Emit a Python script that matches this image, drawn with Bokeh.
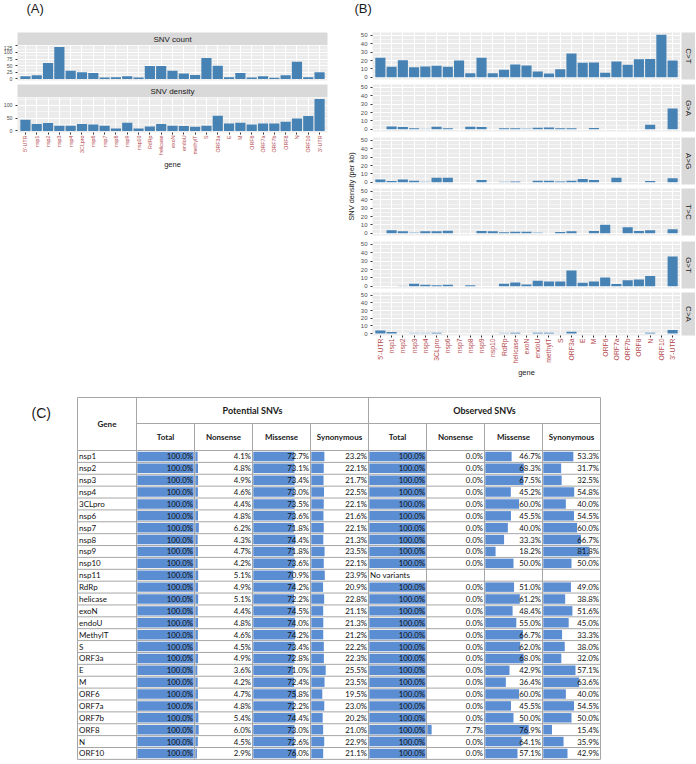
import math
from bokeh.plotting import figure
from bokeh.layouts import column, row
from bokeh.models import Range1d, FactorRange, FixedTicker, ColumnDataSource
from bokeh.core.properties import value
from bokeh.embed import file_html
from bokeh.resources import INLINE

# ---------------- data ----------------
genes = ["5'-UTR", "nsp1", "nsp2", "nsp3", "nsp4", "3CLpro", "nsp6", "nsp7", "nsp8",
         "nsp9", "nsp10", "RdRp", "helicase", "exoN", "endoU", "methylT", "S", "ORF3a",
         "E", "M", "ORF6", "ORF7a", "ORF7b", "ORF8", "N", "ORF10", "3'-UTR"]

a_facets = ["SNV count", "SNV density"]
snv_count = [10, 14, 60, 120, 31, 25, 22, 5, 6, 10, 5, 49, 49, 31, 20, 15, 79, 50, 6, 22,
             5, 10, 4, 14, 65, 6, 25]
snv_density = [44, 27, 31, 20, 20, 27, 25, 20, 9, 32, 9, 17, 27, 20, 19, 16, 20, 60, 29,
               32, 25, 29, 29, 36, 49, 59, 125]

b_facets = ["C>T", "G>A", "A>G", "T>C", "G>T", "C>A"]
ct = [23.5, 12.7, 20.4, 12.0, 13.0, 14.0, 12.7, 20.0, 5.0, 23.5, 5.0, 9.2, 15.4, 14.2, 7.0,
      4.6, 9.6, 28.5, 17.3, 17.7, 5.4, 19.0, 15.0, 21.5, 22.0, 51.0, 20.0]
ga = [0, 3.5, 2.7, 1.2, 0.8, 3.1, 1.2, 0, 3.1, 2.7, 0, 1.2, 1.2, 1.2, 2.0, 2.3, 1.2, 1.2,
      0, 1.5, 0, 0, 0, 0, 5.4, 0, 25.0]
ag = [3.5, 1.6, 3.5, 2.0, 1.0, 5.5, 5.5, 0, 0, 2.7, 0, 1.0, 1.0, 0, 2.0, 2.0, 1.0, 2.0,
      4.0, 2.7, 0, 5.5, 0, 0, 1.6, 0, 5.0]
tc = [0, 3.6, 2.4, 1.2, 2.4, 2.4, 3.2, 0, 0, 2.8, 2.4, 1.2, 2.0, 2.0, 1.2, 0, 1.6, 2.4,
      0, 2.8, 10.4, 0, 7.2, 2.8, 3.6, 0, 4.8]
gt = [0, 0, 0.8, 3.1, 2.0, 1.2, 2.0, 0, 1.2, 0, 0, 3.1, 4.7, 2.3, 6.6, 5.9, 5.9, 19.0,
      4.3, 5.9, 10.5, 2.7, 7.4, 8.2, 12.5, 0, 35.5]
ca = [3.9, 2.0, 0, 1.2, 1.2, 1.2, 0, 0, 0, 0, 0, 1.2, 1.2, 0, 1.2, 1.2, 0.4, 2.3,
      0, 0, 0, 0, 0, 0, 1.2, 0, 4.7]
ct_light = []
ga_light = ["nsp4", "exoN"]
ag_light = ["nsp4", "RdRp"]
tc_light = ["nsp3", "endoU"]
gt_light = ["nsp2"]
ca_light = ["nsp3", "nsp4", "RdRp", "S"]

tbl_genes = ["nsp1", "nsp2", "nsp3", "nsp4", "3CLpro", "nsp6", "nsp7", "nsp8", "nsp9",
             "nsp10", "nsp11", "RdRp", "helicase", "exoN", "endoU", "MethylT", "S", "ORF3a",
             "E", "M", "ORF6", "ORF7a", "ORF7b", "ORF8", "N", "ORF10"]
group_headers = ["Potential SNVs", "Observed SNVs"]
sub_headers = ["Total", "Nonsense", "Missense", "Synonymous"]
pot_total = [100.0, 100.0, 100.0, 100.0, 100.0, 100.0, 100.0, 100.0, 100.0, 100.0, 100.0,
             100.0, 100.0, 100.0, 100.0, 100.0, 100.0, 100.0, 100.0, 100.0, 100.0, 100.0,
             100.0, 100.0, 100.0, 100.0]
pot_nonsense = [4.1, 4.8, 4.9, 4.6, 4.4, 4.8, 6.2, 4.3, 4.7, 4.2, 5.1, 4.9, 5.1, 4.4, 4.8,
                4.6, 4.5, 4.9, 3.6, 4.2, 4.7, 4.8, 5.4, 6.0, 4.5, 2.9]
pot_missense = [72.7, 73.1, 73.4, 73.0, 73.5, 73.6, 71.8, 74.4, 71.8, 73.6, 70.9, 74.2,
                72.2, 74.5, 74.0, 74.2, 73.4, 72.8, 71.0, 72.4, 75.8, 72.2, 74.4, 73.0,
                72.6, 76.0]
pot_synonymous = [23.2, 22.1, 21.7, 22.5, 22.1, 21.6, 22.1, 21.3, 23.5, 22.1, 23.9, 20.9,
                  22.8, 21.1, 21.3, 21.2, 22.2, 22.3, 25.5, 23.5, 19.5, 23.0, 20.2, 21.0,
                  22.9, 21.1]
obs_total = [100.0, 100.0, 100.0, 100.0, 100.0, 100.0, 100.0, 100.0, 100.0, 100.0, None,
             100.0, 100.0, 100.0, 100.0, 100.0, 100.0, 100.0, 100.0, 100.0, 100.0, 100.0,
             100.0, 100.0, 100.0, 100.0]
obs_nonsense = [0.0, 0.0, 0.0, 0.0, 0.0, 0.0, 0.0, 0.0, 0.0, 0.0, None, 0.0, 0.0, 0.0, 0.0,
                0.0, 0.0, 0.0, 0.0, 0.0, 0.0, 0.0, 0.0, 7.7, 0.0, 0.0]
obs_missense = [46.7, 68.3, 67.5, 45.2, 60.0, 45.5, 40.0, 33.3, 18.2, 50.0, None, 51.0,
                61.2, 48.4, 55.0, 66.7, 62.0, 68.0, 42.9, 36.4, 60.0, 45.5, 50.0, 76.9,
                64.1, 57.1]
obs_synonymous = [53.3, 31.7, 32.5, 54.8, 40.0, 54.5, 60.0, 66.7, 81.8, 50.0, None, 49.0,
                  38.8, 51.6, 45.0, 33.3, 38.0, 32.0, 57.1, 63.6, 40.0, 54.5, 50.0, 15.4,
                  35.9, 42.9]
no_variant_text = "No variants"

# ---------------- style ----------------
FONT = "Liberation Sans"
TFONT = "Lato"
PANEL_BG = "#EBEBEB"
STRIP_BG = "#D9D9D9"
BAR = "#4682B4"
BAR_LIGHT = "#A9C7E0"
GENE_RED = "#B5494E"
TBL_BAR = "#5B8DD3"
TBL_LINE = "#A6A6A6"


def blank_fig(width, height, xr, yr, left=0, right=0, top=0, bottom=0, bg="white"):
    p = figure(width=width, height=height, x_range=xr, y_range=yr,
               output_backend="svg", toolbar_location=None, title=None,
               x_axis_location=None, y_axis_location=None,
               min_border_left=left, min_border_right=right,
               min_border_top=top, min_border_bottom=bottom)
    p.background_fill_color = bg
    p.border_fill_color = "white"
    p.outline_line_color = None
    p.grid.visible = False
    return p


def facet_fig(vals, light, yr, ticks, minor, width, height, left, right, top, bottom,
              show_x, xfont, yfont):
    xr = FactorRange(factors=genes, range_padding=0.2, range_padding_units="absolute")
    p = figure(width=width, height=height, x_range=xr, y_range=Range1d(*yr),
               output_backend="svg", toolbar_location=None, title=None,
               min_border_left=left, min_border_right=right,
               min_border_top=top, min_border_bottom=bottom)
    p.background_fill_color = PANEL_BG
    p.border_fill_color = "white"
    p.outline_line_color = None
    keep = [i for i, v in enumerate(vals) if v > 0]
    src = ColumnDataSource(dict(
        gene=[genes[i] for i in keep],
        top=[vals[i] for i in keep],
        color=[BAR_LIGHT if genes[i] in light else BAR for i in keep]))
    p.vbar(x="gene", top="top", bottom=0, width=0.9, fill_color="color",
           line_color=None, source=src)
    yax = p.yaxis[0]
    yax.ticker = FixedTicker(ticks=ticks, minor_ticks=minor)
    yax.axis_line_color = None
    yax.major_tick_line_color = "#333333"
    yax.major_tick_out = 2
    yax.major_tick_in = 0
    yax.minor_tick_line_color = None
    yax.major_label_text_font = FONT
    yax.major_label_text_font_size = yfont
    yax.major_label_text_color = "#4D4D4D"
    yax.major_label_standoff = 1
    p.ygrid.grid_line_color = "white"
    p.ygrid.grid_line_width = 1
    p.ygrid.minor_grid_line_color = "white"
    p.ygrid.minor_grid_line_width = 0.5
    p.xgrid.grid_line_color = "white"
    p.xgrid.grid_line_width = 1
    xax = p.xaxis[0]
    if show_x:
        xax.axis_line_color = None
        xax.major_tick_line_color = "#333333"
        xax.major_tick_out = 2
        xax.major_tick_in = 0
        xax.major_label_orientation = math.pi / 2
        xax.major_label_text_font = FONT
        xax.major_label_text_font_size = xfont
        xax.major_label_text_color = GENE_RED
        xax.major_label_standoff = 1
        xax.axis_label = "gene"
        xax.axis_label_text_font = FONT
        xax.axis_label_text_font_size = "7.5px"
        xax.axis_label_text_font_style = "normal"
        xax.axis_label_text_color = "#1A1A1A"
        xax.axis_label_standoff = 2
    else:
        xax.visible = False
    return p


TOTAL_W = 695

# ---------------- header ----------------
header = blank_fig(TOTAL_W, 32, Range1d(0, TOTAL_W), Range1d(32, 0))
header.text(x=[26, 354], y=[8, 8], text=["(A)", "(B)"], text_align="left",
            text_baseline="middle", text_font=value(FONT), text_font_size="13px",
            text_color="#1A1A1A")

# ---------------- panel A ----------------
A_W, A_L, A_R = 340, 13, 13


def strip_top(label):
    s = blank_fig(A_W, 13, Range1d(0, 1), Range1d(0, 1), left=A_L, right=A_R, bg=STRIP_BG)
    s.text(x=[0.5], y=[0.5], text=[label], text_align="center", text_baseline="middle",
           text_font=value(FONT), text_font_size="8px", text_color="#1A1A1A")
    return s


a1 = facet_fig(snv_count, [], (-6, 126), [0, 25, 50, 75, 100, 125],
               [12.5, 37.5, 62.5, 87.5, 112.5], A_W, 39, A_L, A_R, 0, 4, False, "5.3px", "5.2px")
a2 = facet_fig(snv_density, [], (-6.25, 131.25), [0, 50, 100], [25, 75, 125],
               A_W, 75, A_L, A_R, 0, 40, True, "5.3px", "5.2px")
a_col = column(strip_top(a_facets[0]), a1, strip_top(a_facets[1]), a2)

# ---------------- panel B ----------------
B_W, B_L = 323, 11
b_vals = [ct, ga, ag, tc, gt, ca]
b_light = [ct_light, ga_light, ag_light, tc_light, gt_light, ca_light]
b_specs = [(52, 0, 5), (49, 0, 2), (53, 2, 4), (50, 0, 3), (52, 1, 4), (88, 0, 41)]
b_children = []
for k in range(6):
    h, t, bt = b_specs[k]
    last = k == 5
    pf = facet_fig(b_vals[k], b_light[k], (-2.55, 53.55), [0, 10, 20, 30, 40, 50],
                   [5, 15, 25, 35, 45], B_W, h, B_L, 0, t, bt, last, "6.8px", "6px")
    sf = blank_fig(15, h, Range1d(0, 1), Range1d(0, 1), left=1, right=0, top=t, bottom=bt,
                   bg=STRIP_BG)
    sf.text(x=[0.5], y=[0.5], text=[b_facets[k]], angle=-math.pi / 2, text_align="center",
            text_baseline="middle", text_font=value(FONT), text_font_size="8px",
            text_color="#1A1A1A")
    b_children.append(row(pf, sf))
    if k in (1, 3):
        sep = blank_fig(B_W + 15, 2, Range1d(0, 1), Range1d(0, 1), left=6, bg="#7F7F7F")
        b_children.append(sep)
b_col = column(*b_children)

ylab = blank_fig(17, 348, Range1d(340, 357), Range1d(380, 32))
ylab.text(x=[350.5], y=[186], text=["SNV density (per kb)"], angle=math.pi / 2,
          text_align="center", text_baseline="middle", text_font=value(FONT),
          text_font_size="7.4px", text_color="#1A1A1A")
b_block = row(ylab, b_col)

top_row = row(a_col, b_block)

# ---------------- panel C (table) ----------------
tbl = blank_fig(TOTAL_W, 384, Range1d(0, TOTAL_W), Range1d(764, 380))
tbl.text(x=[31], y=[412.5], text=["(C)"], text_align="left", text_baseline="middle",
         text_font=value(FONT), text_font_size="14px", text_color="#1A1A1A")

col_edges = [77, 136, 194, 252, 310, 368, 426, 484, 542, 600]
T_TOP, T_MID, T_ROW0, ROW_H = 397, 423, 450, 11.88
n = len(tbl_genes)
T_BOT = T_ROW0 + n * ROW_H

# grid lines
x0s, y0s, x1s, y1s = [], [], [], []
for yy, xa in [(T_TOP, col_edges[0]), (T_MID, col_edges[1]), (T_ROW0, col_edges[0])]:
    x0s.append(xa); x1s.append(col_edges[-1]); y0s.append(yy); y1s.append(yy)
for r in range(1, n + 1):
    yy = T_ROW0 + r * ROW_H
    x0s.append(col_edges[0]); x1s.append(col_edges[-1]); y0s.append(yy); y1s.append(yy)
for j, xx in enumerate(col_edges):
    ytop = T_TOP if j in (0, 1, 5, 9) else T_MID
    x0s.append(xx); x1s.append(xx); y0s.append(ytop); y1s.append(T_BOT)
tbl.segment(x0=x0s, y0=y0s, x1=x1s, y1=y1s, line_color=TBL_LINE, line_width=1)

# headers
tbl.text(x=[(col_edges[0] + col_edges[1]) / 2], y=[(T_TOP + T_ROW0) / 2], text=["Gene"],
         text_align="center", text_baseline="middle", text_font=value(TFONT),
         text_font_size="8px", text_font_style="bold", text_color="#1A1A1A")
tbl.text(x=[(col_edges[1] + col_edges[5]) / 2, (col_edges[5] + col_edges[9]) / 2],
         y=[(T_TOP + T_MID) / 2] * 2, text=group_headers, text_align="center",
         text_baseline="middle", text_font=value(TFONT), text_font_size="9px",
         text_font_style="bold", text_color="#1A1A1A")
sub_x = [(col_edges[j] + col_edges[j + 1]) / 2 for j in range(1, 9)]
tbl.text(x=sub_x, y=[(T_MID + T_ROW0) / 2] * 8, text=sub_headers * 2, text_align="center",
         text_baseline="middle", text_font=value(TFONT), text_font_size="8px",
         text_font_style="bold", text_color="#1A1A1A")

# gene names
row_y = [T_ROW0 + (i + 0.5) * ROW_H for i in range(n)]
tbl.text(x=[col_edges[0] + 1.5] * n, y=row_y, text=tbl_genes, text_align="left",
         text_baseline="middle", text_font=value(TFONT), text_font_size="8px",
         text_color="#111111")

columns = [pot_total, pot_nonsense, pot_missense, pot_synonymous,
           obs_total, obs_nonsense, obs_missense, obs_synonymous]
bl, br, by, tx, ty, tt = [], [], [], [], [], []
for j, vals in enumerate(columns):
    L, R = col_edges[j + 1], col_edges[j + 2]
    for i, v in enumerate(vals):
        if v is None:
            continue
        if v > 0:
            bl.append(L + 0.8)
            br.append(L + 0.8 + v / 100.0 * (R - L - 1.6))
            by.append(row_y[i])
        tx.append(R - 1.5)
        ty.append(row_y[i])
        tt.append(f"{v:.1f}%")
tbl.hbar(y=by, left=bl, right=br, height=ROW_H - 2.4, fill_color=TBL_BAR, line_color=None)
tbl.text(x=tx, y=ty, text=tt, text_align="right", text_baseline="middle",
         text_font=value(TFONT), text_font_size="7.8px", text_color="#111111")
# observed row without variants
miss = [i for i, v in enumerate(obs_total) if v is None]
tbl.text(x=[col_edges[5] + 1.5] * len(miss), y=[row_y[i] for i in miss],
         text=[no_variant_text] * len(miss), text_align="left", text_baseline="middle",
         text_font=value(TFONT), text_font_size="8px", text_color="#111111")

layout = column(header, top_row, tbl)
open("out.html", "w").write(file_html(layout, INLINE))
